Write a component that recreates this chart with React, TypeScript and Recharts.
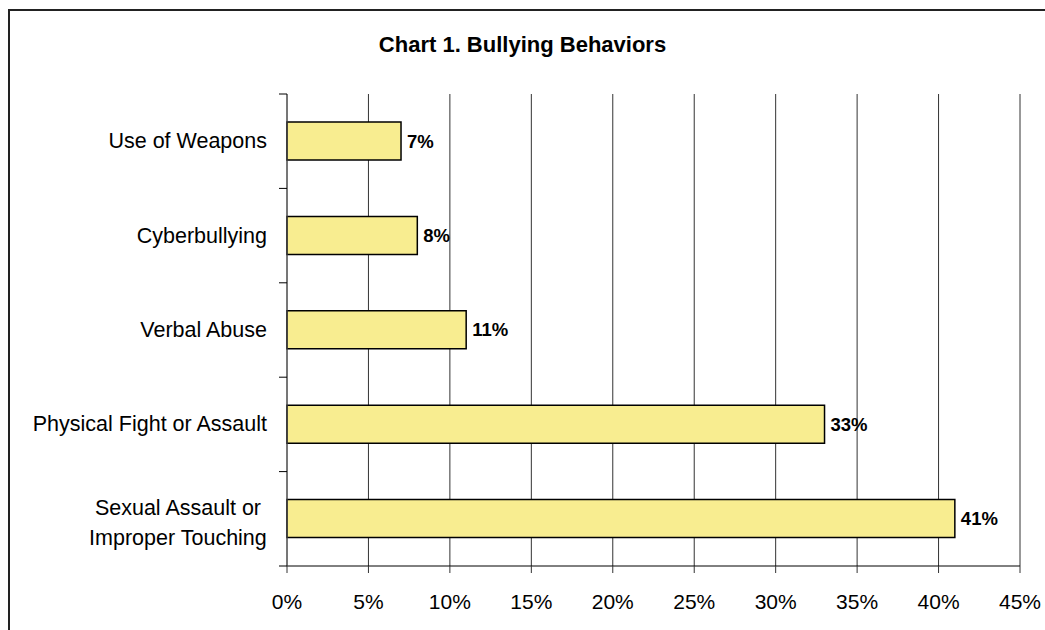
import React from "react";
import { BarChart, Bar, XAxis, YAxis, CartesianGrid, LabelList } from "recharts";

const categories = [
  "Use of Weapons",
  "Cyberbullying",
  "Verbal Abuse",
  "Physical Fight or Assault",
  "Sexual Assault or\nImproper Touching",
];
const percentages = [7, 8, 11, 33, 41];
const xTicks = [0, 5, 10, 15, 20, 25, 30, 35, 40, 45];
const title = "Chart 1. Bullying Behaviors";

const data = categories.map((c, i) => ({ category: c, value: percentages[i] }));

const W = 1045;
const H = 630;
const MARGIN = { top: 94, right: 25, bottom: 34, left: 0 };
const Y_AXIS_W = 287;
const X_AXIS_H = 30;
const PLOT_H = H - MARGIN.top - MARGIN.bottom - X_AXIS_H;
const BAND = PLOT_H / categories.length;
const FONT = "'Liberation Sans', Arial, sans-serif";
const CAT_FONT_SIZE = 21.5;
const Y_TICK_MARGIN = 20;
const Y_TICK_LEN = 8;
const LINE_GAP = 30;

let measureCtx: CanvasRenderingContext2D | null = null;
function measure(text: string): number {
  if (!measureCtx) {
    const c = document.createElement("canvas");
    measureCtx = c.getContext("2d");
  }
  if (!measureCtx) return text.length * CAT_FONT_SIZE * 0.5;
  measureCtx.font = `${CAT_FONT_SIZE}px 'Liberation Sans'`;
  return measureCtx.measureText(text).width;
}

function CategoryTick(props: any) {
  const { x, y, payload, index } = props;
  const lines: string[] = String(payload.value).split("\n");
  const widths = lines.map(measure);
  const blockW = Math.max(...widths);
  const cx = x - blockW / 2;
  const axisX = x + Y_TICK_MARGIN;
  const n = lines.length;
  const startY = y - ((n - 1) * LINE_GAP) / 2 + (n > 1 ? 4 : 0);
  return (
    <g>
      <line x1={axisX - Y_TICK_LEN} x2={axisX} y1={y - BAND / 2} y2={y - BAND / 2} stroke="#000" strokeWidth={1} />
      {index === categories.length - 1 && (
        <line x1={axisX - Y_TICK_LEN} x2={axisX} y1={y + BAND / 2} y2={y + BAND / 2} stroke="#000" strokeWidth={1} />
      )}
      {lines.map((ln, i) => (
        <text
          key={i}
          x={n > 1 ? cx : x}
          y={startY + i * LINE_GAP}
          textAnchor={n > 1 ? "middle" : "end"}
          dominantBaseline="central"
          fontSize={CAT_FONT_SIZE}
          fontFamily={FONT}
          fill="#000"
        >
          {ln}
        </text>
      ))}
    </g>
  );
}

export default function App() {
  return (
    <div style={{ position: "absolute", left: 0, top: 0, width: W, height: H, background: "#fff", overflow: "hidden" }}>
      <div
        style={{
          position: "absolute",
          left: 8,
          top: 9,
          width: W - 8,
          height: H - 9,
          borderTop: "2px solid #222",
          borderLeft: "2px solid #222",
          boxSizing: "border-box",
        }}
      />
      <div
        style={{
          position: "absolute",
          left: 0,
          top: 34,
          width: W,
          textAlign: "center",
          fontFamily: FONT,
          fontWeight: "bold",
          fontSize: 22,
          lineHeight: "22px",
          color: "#000",
        }}
      >
        {title}
      </div>
      <div style={{ position: "absolute", left: 0, top: 0 }}>
        <BarChart width={W} height={H} data={data} layout="vertical" margin={MARGIN} barCategoryGap={0}>
          <CartesianGrid horizontal={false} vertical={true} stroke="#333" strokeWidth={1} />
          <XAxis
            type="number"
            domain={[0, 45]}
            ticks={xTicks}
            interval={0}
            height={X_AXIS_H}
            tickSize={7}
            tickMargin={21}
            tickFormatter={(v: number) => `${v}%`}
            axisLine={{ stroke: "#000", strokeWidth: 1 }}
            tickLine={{ stroke: "#333", strokeWidth: 1 }}
            tick={{ fontSize: 21, fill: "#000", fontFamily: FONT }}
          />
          <YAxis
            type="category"
            dataKey="category"
            width={Y_AXIS_W}
            interval={0}
            tickSize={0}
            tickMargin={Y_TICK_MARGIN}
            axisLine={{ stroke: "#555", strokeWidth: 1 }}
            tickLine={false}
            tick={(p: any) => <CategoryTick {...p} />}
          />
          <Bar dataKey="value" fill="#F8ED90" stroke="#000" strokeWidth={1.5} barSize={38} isAnimationActive={false}>
            <LabelList
              dataKey="value"
              position="right"
              offset={6}
              formatter={(v: any) => `${v}%`}
              style={{ fontWeight: "bold", fontSize: 18.5, fill: "#000", fontFamily: FONT }}
            />
          </Bar>
        </BarChart>
      </div>
    </div>
  );
}
